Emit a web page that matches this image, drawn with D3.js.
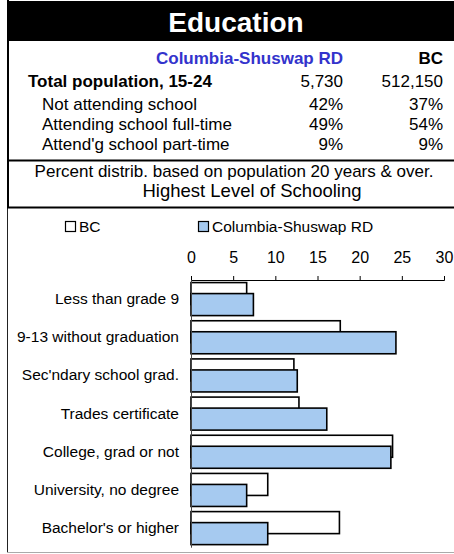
<!DOCTYPE html>
<html>
<head>
<meta charset="utf-8">
<script src="https://cdn.jsdelivr.net/npm/d3@7"></script>
<style>
  body { margin: 0; background: #fff; }
  svg { display: block; font-family: "Liberation Sans", Arial, sans-serif; }
</style>
</head>
<body>
<div id="container"></div>
<script>
// header table
const regionNames = ["Columbia-Shuswap RD", "BC"];
const totalLabel = "Total population, 15-24";
const totalValues = ["5,730", "512,150"];
const rowLabels = ["Not attending school", "Attending school full-time", "Attend'g school part-time"];
const rowRegion = [42, 49, 9];
const rowBC = [37, 54, 9];

// chart data, percent of population 20 years & over
const categories = [
  "Less than grade 9",
  "9-13 without graduation",
  "Sec'ndary school grad.",
  "Trades certificate",
  "College, grad or not",
  "University, no degree",
  "Bachelor's or higher"
];
const bcValues = [6.6, 17.7, 12.2, 12.8, 23.9, 9.1, 17.6];
const regionValues = [7.4, 24.3, 12.6, 16.1, 23.7, 6.6, 9.1];
const xTicks = [0, 5, 10, 15, 20, 25, 30];

const W = 454, H = 554;
const svg = d3.select('#container').append('svg')
  .attr('width', W)
  .attr('height', H);

// Title bar
svg.append('rect')
  .attr('x', 7).attr('y', 1)
  .attr('width', W - 7).attr('height', 40)
  .attr('fill', '#000');
svg.append('text')
  .attr('x', 236).attr('y', 32)
  .attr('text-anchor', 'middle')
  .attr('fill', '#fff')
  .attr('font-weight', 'bold')
  .attr('font-size', 28)
  .text('Education');

// frame lines
svg.append('line')
  .attr('x1', 8).attr('x2', 8).attr('y1', 0).attr('y2', 208)
  .attr('stroke', '#000').attr('stroke-width', 2);
svg.append('line')
  .attr('x1', 7.5).attr('x2', 7.5).attr('y1', 208).attr('y2', 553)
  .attr('stroke', '#222').attr('stroke-width', 1);
svg.append('line')
  .attr('x1', 7).attr('x2', W).attr('y1', 160.5).attr('y2', 160.5)
  .attr('stroke', '#000').attr('stroke-width', 2);
svg.append('line')
  .attr('x1', 7).attr('x2', W).attr('y1', 207.5).attr('y2', 207.5)
  .attr('stroke', '#000').attr('stroke-width', 2);
svg.append('line')
  .attr('x1', 7).attr('x2', W).attr('y1', 552.5).attr('y2', 552.5)
  .attr('stroke', '#aaa').attr('stroke-width', 1);

// Header table
const colX = [343, 443];
const head = svg.append('g').attr('font-size', 17);
head.selectAll('text.region')
  .data(regionNames)
  .enter().append('text')
  .attr('class', 'region')
  .attr('x', (d, i) => colX[i])
  .attr('y', 64)
  .attr('text-anchor', 'end')
  .attr('font-weight', 'bold')
  .attr('fill', (d, i) => i === 0 ? '#3333CC' : '#000')
  .text(d => d);

head.append('text')
  .attr('x', 28).attr('y', 87)
  .attr('font-weight', 'bold')
  .text(totalLabel);
head.selectAll('text.total')
  .data(totalValues)
  .enter().append('text')
  .attr('class', 'total')
  .attr('x', (d, i) => colX[i])
  .attr('y', 87)
  .attr('text-anchor', 'end')
  .text(d => d);

const rowY = [110, 130, 150];
rowLabels.forEach((lab, i) => {
  head.append('text').attr('x', 42).attr('y', rowY[i]).text(lab);
  head.append('text').attr('x', colX[0]).attr('y', rowY[i])
    .attr('text-anchor', 'end').text(rowRegion[i] + '%');
  head.append('text').attr('x', colX[1]).attr('y', rowY[i])
    .attr('text-anchor', 'end').text(rowBC[i] + '%');
});

head.append('text')
  .attr('x', 234).attr('y', 177)
  .attr('text-anchor', 'middle')
  .text('Percent distrib. based on population 20 years & over.');
svg.append('text')
  .attr('x', 252).attr('y', 197)
  .attr('text-anchor', 'middle')
  .attr('font-size', 18.5)
  .text('Highest Level of Schooling');

// Chart
const blue = '#A6CAF0';
const xScale = d3.scaleLinear().domain([0, 30]).range([191, 444]);
const yScale = d3.scaleBand()
  .domain(categories)
  .range([280, 547.2])
  .paddingInner(0.135)
  .paddingOuter(0.0675);
const barH = yScale.bandwidth() * 2 / 3;

// legend
const legend = svg.append('g').attr('font-size', 15.5);
const legendItems = [
  { name: 'BC', fill: '#fff', x: 65 },
  { name: 'Columbia-Shuswap RD', fill: blue, x: 198 }
];
legend.selectAll('rect')
  .data(legendItems)
  .enter().append('rect')
  .attr('x', d => d.x + 0.5).attr('y', 221.5)
  .attr('width', 10).attr('height', 10)
  .attr('fill', d => d.fill)
  .attr('stroke', '#000').attr('stroke-width', 1.2);
legend.selectAll('text')
  .data(legendItems)
  .enter().append('text')
  .attr('x', d => d.x + 14).attr('y', 232)
  .text(d => d.name);

// bars: BC behind, region in front, 50% overlap
const groups = svg.append('g').selectAll('g')
  .data(categories)
  .enter().append('g');

groups.append('rect')
  .attr('x', xScale(0))
  .attr('y', (d, i) => yScale(d))
  .attr('width', (d, i) => xScale(bcValues[i]) - xScale(0))
  .attr('height', barH)
  .attr('fill', '#fff')
  .attr('stroke', '#000')
  .attr('stroke-width', 1.6);

groups.append('rect')
  .attr('x', xScale(0))
  .attr('y', (d, i) => yScale(d) + barH / 2)
  .attr('width', (d, i) => xScale(regionValues[i]) - xScale(0))
  .attr('height', barH)
  .attr('fill', blue)
  .attr('stroke', '#000')
  .attr('stroke-width', 1.6);

// x axis on top
const xAxis = svg.append('g')
  .attr('transform', 'translate(0, 280)')
  .call(d3.axisTop(xScale)
    .tickValues(xTicks)
    .tickSize(4)
    .tickPadding(13)
    .tickFormat(d3.format('d')));
xAxis.selectAll('text')
  .attr('font-size', 16)
  .attr('font-family', '"Liberation Sans", Arial, sans-serif')
  .attr('fill', '#000');
xAxis.selectAll('line, path').attr('stroke', '#000');

// y axis with category labels
const yAxis = svg.append('g')
  .attr('transform', `translate(${xScale(0)}, 0)`)
  .call(d3.axisLeft(yScale).tickSize(0).tickPadding(12));
yAxis.selectAll('text')
  .attr('font-size', 15.5)
  .attr('font-family', '"Liberation Sans", Arial, sans-serif')
  .attr('fill', '#000');
yAxis.select('path').attr('stroke', '#444');
</script>
</body>
</html>
